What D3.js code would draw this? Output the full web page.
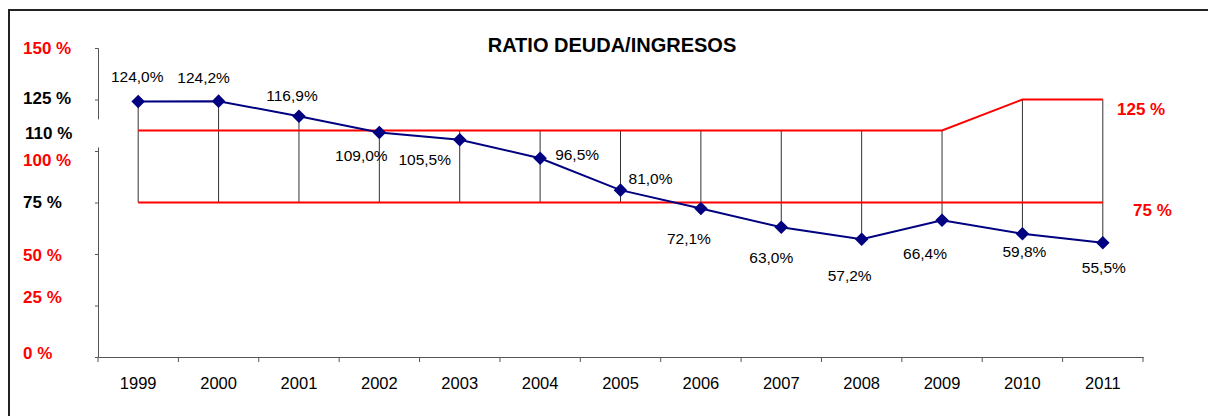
<!DOCTYPE html>
<html>
<head>
<meta charset="utf-8">
<script src="https://cdn.jsdelivr.net/npm/d3@7"></script>
<style>
  body { margin: 0; background: #fff; }
  svg { display: block; font-family: Arial, "Liberation Sans", sans-serif; }
</style>
</head>
<body>
<div id="chart"></div>
<script>
// data
var years = ["1999","2000","2001","2002","2003","2004","2005","2006","2007","2008","2009","2010","2011"];
var ratio = [124.0, 124.2, 116.9, 109.0, 105.5, 96.5, 81.0, 72.1, 63.0, 57.2, 66.4, 59.8, 55.5];
var upperLimit = [110, 110, 110, 110, 110, 110, 110, 110, 110, 110, 110, 125, 125];
var lowerLimit = [75, 75, 75, 75, 75, 75, 75, 75, 75, 75, 75, 75, 75];
var yTicks = [0, 25, 50, 75, 100, 125, 150];
var yLabels = [150, 125, 110, 100, 75, 50, 25, 0];
var yLabelRed = [true, false, false, true, false, true, true, true];
var limitLabels = [125, 75];

// hand placed label nudges (px)
var yLabelNudge = [0, -1, 3, 9, 0, 1, -8, -4];
var pointLabelNudge = [[-1,-25],[-15,-24],[-7,-21],[-18,23],[-35,20],[37,-4],[30,-12],
                       [-12,30],[-10,30],[-12,36],[-17,33],[2,18],[1,25]];
var limitLabelNudge = [[-26, 10], [-10, 8]];

var W = 1208, H = 416;
var svg = d3.select("#chart").append("svg").attr("width", W).attr("height", H);

// frame (top + left)
svg.append("path")
  .attr("d", "M9,416 L9,10 L1208,10")
  .attr("fill", "none").attr("stroke", "#222").attr("stroke-width", 2);

var x = d3.scaleBand().domain(years).range([98, 1143]);
var y = d3.scaleLinear().domain([0, 150]).range([357, 48]);
var cx = function(i) { return x(years[i]) + x.bandwidth() / 2; };

// title
svg.append("text")
  .attr("x", 612).attr("y", 52)
  .attr("text-anchor", "middle")
  .attr("font-size", "20px").attr("font-weight", "bold")
  .text("RATIO DEUDA/INGRESOS");

// y axis
var yAxis = svg.append("g")
  .attr("transform", "translate(98,0)")
  .call(d3.axisLeft(y).tickValues(yTicks).tickSize(3).tickFormat(""));
yAxis.select(".domain").attr("stroke", "#555");
yAxis.selectAll(".tick line").attr("stroke", "#555");

// x axis
var xAxis = svg.append("g")
  .attr("transform", "translate(0," + y(0) + ")")
  .call(d3.axisBottom(x).tickSize(0).tickPadding(20));
xAxis.select(".domain").attr("stroke", "#555");
xAxis.selectAll("text").attr("font-size", "16.5px").attr("fill", "#000")
  .attr("font-family", "Arial, 'Liberation Sans', sans-serif");
svg.append("g").selectAll("line")
  .data(d3.range(years.length + 1))
  .enter().append("line")
  .attr("x1", function(i) { return i < years.length ? x(years[i]) : x.range()[1]; })
  .attr("x2", function(i) { return i < years.length ? x(years[i]) : x.range()[1]; })
  .attr("y1", y(0)).attr("y2", y(0) + 5)
  .attr("stroke", "#555");

// high-low lines
svg.append("g").selectAll("line")
  .data(years)
  .enter().append("line")
  .attr("x1", function(d, i) { return cx(i); })
  .attr("x2", function(d, i) { return cx(i); })
  .attr("y1", function(d, i) { return y(Math.max(ratio[i], upperLimit[i], lowerLimit[i])); })
  .attr("y2", function(d, i) { return y(Math.min(ratio[i], upperLimit[i], lowerLimit[i])); })
  .attr("stroke", "#333").attr("stroke-width", 1);

var line = d3.line()
  .x(function(d, i) { return cx(i); })
  .y(function(d) { return y(d); });

// limit lines
[upperLimit, lowerLimit].forEach(function(s) {
  svg.append("path").datum(s)
    .attr("d", line)
    .attr("fill", "none").attr("stroke", "#ff0000").attr("stroke-width", 2);
});

// ratio series
svg.append("path").datum(ratio)
  .attr("d", line)
  .attr("fill", "none").attr("stroke", "#000080").attr("stroke-width", 2);

svg.append("g").selectAll("path")
  .data(ratio)
  .enter().append("path")
  .attr("d", d3.symbol().type(d3.symbolSquare).size(92))
  .attr("transform", function(d, i) { return "translate(" + cx(i) + "," + y(d) + ") rotate(45)"; })
  .attr("fill", "#000080");

// point labels
svg.append("g").selectAll("text")
  .data(ratio)
  .enter().append("text")
  .attr("x", function(d, i) { return cx(i) + pointLabelNudge[i][0]; })
  .attr("y", function(d, i) { return y(d) + pointLabelNudge[i][1]; })
  .attr("dy", "0.35em")
  .attr("text-anchor", "middle")
  .attr("font-size", "15.5px")
  .attr("fill", "#000")
  .text(function(d) { return d.toFixed(1).replace(".", ",") + "%"; });

// left value labels (110 % breaks the axis)
svg.append("rect")
  .attr("x", 20).attr("width", 82)
  .attr("y", y(110) - 11).attr("height", 28)
  .attr("fill", "#fff");
svg.append("g").selectAll("text")
  .data(yLabels)
  .enter().append("text")
  .attr("x", function(d) { return d === 110 ? 25 : 23; })
  .attr("y", function(d, i) { return y(d) + yLabelNudge[i]; })
  .attr("dy", "0.35em")
  .attr("font-size", "17px").attr("font-weight", "bold")
  .attr("fill", function(d, i) { return yLabelRed[i] ? "#ff0000" : "#000"; })
  .text(function(d) { return d + " %"; });

// limit labels on the right
svg.append("g").selectAll("text")
  .data(limitLabels)
  .enter().append("text")
  .attr("x", function(d, i) { return x.range()[1] + limitLabelNudge[i][0]; })
  .attr("y", function(d, i) { return y(d) + limitLabelNudge[i][1]; })
  .attr("dy", "0.35em")
  .attr("font-size", "17px").attr("font-weight", "bold")
  .attr("fill", "#ff0000")
  .text(function(d) { return d + " %"; });
</script>
</body>
</html>
